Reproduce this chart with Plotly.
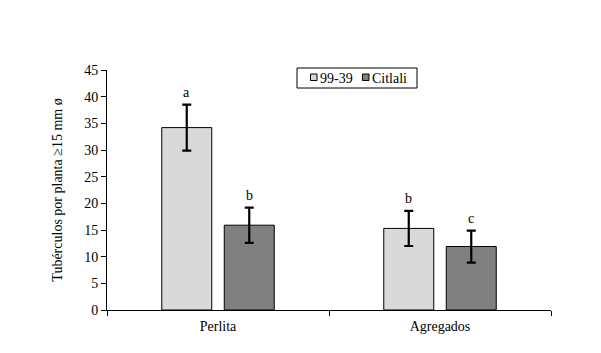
import plotly.graph_objects as go

categories = ["Perlita", "Agregados"]
series_names = ["99-39", "Citlali"]
vals_9939 = [34.2, 15.3]
err_9939 = [4.3, 3.3]
vals_citlali = [15.9, 11.9]
err_citlali = [3.3, 3.0]
letters_9939 = ["a", "b"]
letters_citlali = ["b", "c"]
colors = ["#D9D9D9", "#808080"]

FONT = "Liberation Serif, Times New Roman, serif"
FS = 14

fig = go.Figure()
for name, vals, errs, col in [
    (series_names[0], vals_9939, err_9939, colors[0]),
    (series_names[1], vals_citlali, err_citlali, colors[1]),
]:
    fig.add_trace(go.Bar(
        x=categories, y=vals, name=name,
        marker=dict(color=col, line=dict(color="black", width=1)),
        error_y=dict(type="data", array=errs, visible=True,
                     color="black", thickness=2.2, width=4.5),
    ))

# significance letters
for i, cat in enumerate(categories):
    for j, (vals, errs, lets) in enumerate([
        (vals_9939, err_9939, letters_9939),
        (vals_citlali, err_citlali, letters_citlali),
    ]):
        fig.add_annotation(
            x=cat, y=vals[i] + errs[i], text=lets[i], showarrow=False,
            xshift=(-31.25 if j == 0 else 31.25), yshift=12,
            font=dict(family=FONT, size=FS, color="black"),
        )

# compact legend box (paper coords)
W, H = 444.0, 240.0
def px_x(p):
    return (p - 107) / W
def px_y(p):
    return (310 - p) / H

fig.add_shape(type="rect", xref="paper", yref="paper",
              x0=px_x(297), x1=px_x(417), y0=px_y(88), y1=px_y(68),
              line=dict(color="black", width=1), fillcolor="white")
leg_x = [310.5, 362.5]
for k, name in enumerate(series_names):
    fig.add_shape(type="rect", xref="paper", yref="paper",
                  x0=px_x(leg_x[k]), x1=px_x(leg_x[k] + 6.5),
                  y0=px_y(80.5), y1=px_y(74),
                  line=dict(color="black", width=1), fillcolor=colors[k])
    fig.add_annotation(xref="paper", yref="paper",
                       x=px_x(leg_x[k] + 7), y=px_y(78),
                       xanchor="left", yanchor="middle", showarrow=False,
                       text=name, font=dict(family=FONT, size=FS, color="black"))

fig.update_layout(
    width=601, height=353,
    margin=dict(l=107, r=50, t=70, b=43),
    paper_bgcolor="white", plot_bgcolor="white",
    font=dict(family=FONT, size=FS, color="black"),
    barmode="group", bargap=0.437, bargroupgap=0.2,
    showlegend=False,
)
fig.update_xaxes(
    showline=True, linecolor="black", linewidth=1,
    ticks="outside", tickson="boundaries", ticklen=5, tickcolor="black",
    showgrid=False, zeroline=False, ticklabelstandoff=3,
    tickfont=dict(family=FONT, size=FS),
)
fig.update_yaxes(
    range=[0, 45], dtick=5, showline=True, linecolor="black", linewidth=1,
    ticks="outside", ticklen=5, tickcolor="black",
    showgrid=False, zeroline=False,
    tickfont=dict(family=FONT, size=FS),
    title=dict(text="Tubérculos por planta ≥15 mm ø",
               font=dict(family=FONT, size=FS), standoff=18),
)

fig.write_html("out.html")
